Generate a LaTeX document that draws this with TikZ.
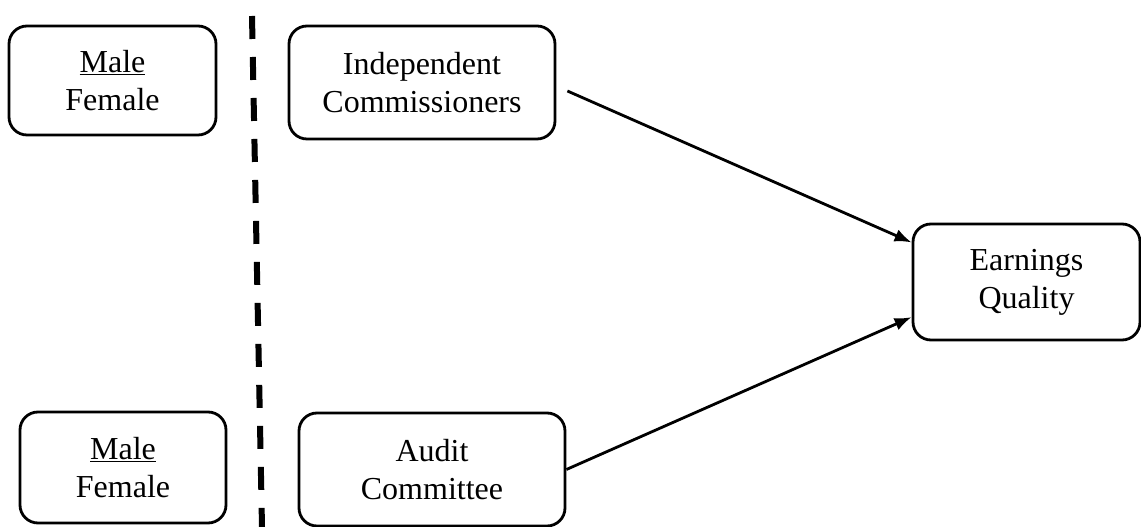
\documentclass[tikz,border=0pt]{standalone}
\usepackage{fontspec}
\setmainfont{Liberation Serif}
\usetikzlibrary{arrows.meta}

\begin{document}
\begin{tikzpicture}[x=1pt,y=1pt,>={Latex[length=17pt,width=13pt]},line width=2.8pt,
  box/.style={draw,rounded corners=18pt,align=center,inner sep=0pt,
    font=\fontsize{32}{38}\selectfont},
  sep/.style={line width=6pt,dash pattern=on 23pt off 18pt}]
\useasboundingbox (0,0) rectangle (1141,527);
\node [box,minimum width=207,minimum height=109] (male1) at (112.5,446.5) {\underline{Male}\\Female};
\node [box,minimum width=206,minimum height=111] (male2) at (123,59.5) {\underline{Male}\\Female};
\node [box,minimum width=266,minimum height=113] (indep) at (422,444.5) {Independent\\Commissioners};
\node [box,minimum width=266,minimum height=113] (audit) at (432,57.5) {Audit\\Committee};
\node [box,minimum width=227,minimum height=116] (earn) at (1026.5,245) {Earnings\\Quality};
% dashed divider
\coordinate (sepTop) at (252,511);
\coordinate (sepBot) at (262,0);
\draw [sep] (sepTop) -- (sepBot);
% paths
\coordinate (icOut) at ([xshift=11,yshift=-8.5]indep.east);
\draw [->] (icOut) -- (earn.161);
\draw [->] (audit.east) -- (earn.197);
\end{tikzpicture}
\end{document}
